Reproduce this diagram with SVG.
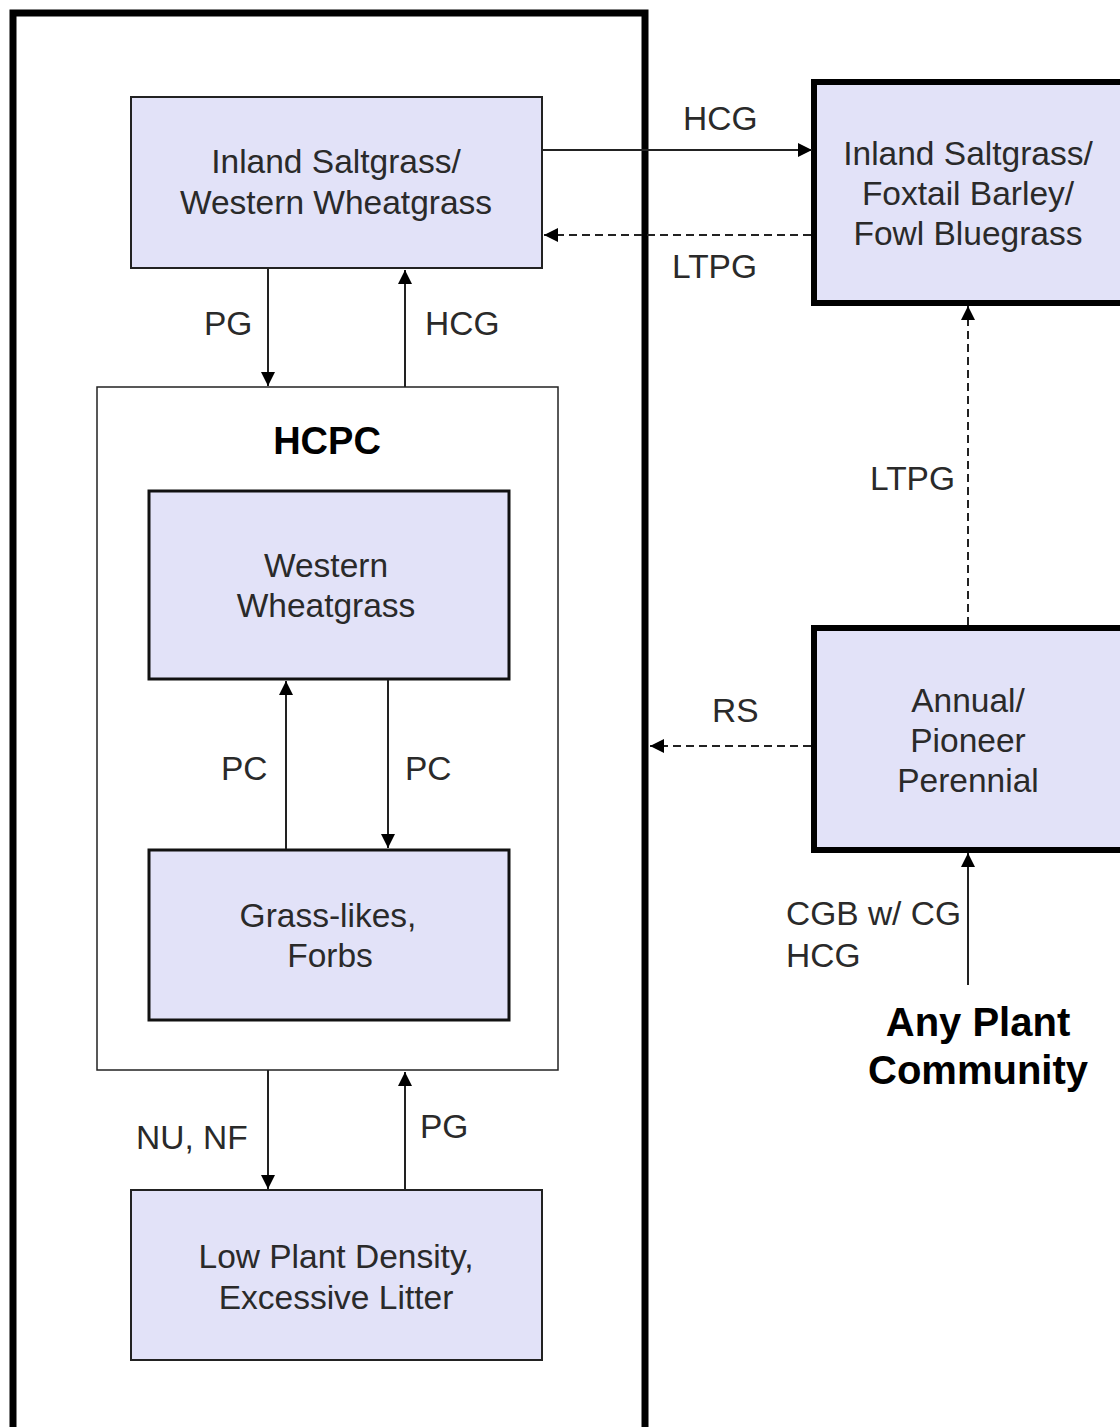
<svg xmlns="http://www.w3.org/2000/svg" width="1120" height="1427" viewBox="0 0 1120 1427">
<style>
.box{fill:#E2E2F8;stroke:#222;stroke-width:2}
.thick{fill:#E2E2F8;stroke:#000;stroke-width:6}
.mid{fill:#E2E2F8;stroke:#111;stroke-width:3}
.t{font-family:"Liberation Sans",Arial,sans-serif;font-size:33.5px;fill:#2a2a2a;text-anchor:middle}
.lbl{font-family:"Liberation Sans",Arial,sans-serif;font-size:33.5px;fill:#2a2a2a}
.b{font-family:"Liberation Sans",Arial,sans-serif;font-weight:bold;fill:#000;text-anchor:middle}
.c{stroke:#222;stroke-width:2;fill:none}
.d{stroke:#222;stroke-width:2;fill:none;stroke-dasharray:8,5}
</style>
<defs>
<marker id="ah" viewBox="0 0 10 10" refX="10" refY="5" markerWidth="15" markerHeight="14" markerUnits="userSpaceOnUse" orient="auto">
<path d="M0,0 L10,5 L0,10 z" fill="#000"/>
</marker>
</defs>
<rect width="1120" height="1427" fill="#fff"/>
<g id="frame"><rect x="13" y="13" width="632" height="1440" fill="none" stroke="#000" stroke-width="7"/></g>
<g id="n1"><rect class="box" x="131" y="97" width="411" height="171"/>
<text class="t" x="336" y="173">Inland Saltgrass/</text><text class="t" x="336" y="214">Western Wheatgrass</text></g>
<g id="n2"><rect class="thick" x="814" y="82" width="312" height="221"/>
<text class="t" x="968" y="165">Inland Saltgrass/</text><text class="t" x="968" y="205">Foxtail Barley/</text><text class="t" x="968" y="245">Fowl Bluegrass</text></g>
<g id="hcpc"><rect x="97" y="387" width="461" height="683" fill="#fff" stroke="#222" stroke-width="1.5"/>
<text class="b" x="327" y="454" font-size="38">HCPC</text></g>
<g id="n3"><rect class="mid" x="149" y="491" width="360" height="188"/>
<text class="t" x="326" y="577">Western</text><text class="t" x="326" y="617">Wheatgrass</text></g>
<g id="n4"><rect class="mid" x="149" y="850" width="360" height="170"/>
<text class="t" x="328" y="927">Grass-likes,</text><text class="t" x="330" y="967">Forbs</text></g>
<g id="n5"><rect class="box" x="131" y="1190" width="411" height="170"/>
<text class="t" x="336" y="1268">Low Plant Density,</text><text class="t" x="336" y="1309">Excessive Litter</text></g>
<g id="n6"><rect class="thick" x="814" y="628" width="312" height="222"/>
<text class="t" x="968" y="712">Annual/</text><text class="t" x="968" y="752">Pioneer</text><text class="t" x="968" y="792">Perennial</text></g>
<g id="n7"><text class="b" x="978" y="1036" font-size="40">Any Plant</text><text class="b" x="978" y="1084" font-size="40">Community</text></g>
<g id="connectors">
<line class="c" x1="542" y1="150" x2="812" y2="150" marker-end="url(#ah)"/>
<line class="d" x1="811" y1="235" x2="544" y2="235" marker-end="url(#ah)"/>
<line class="c" x1="268" y1="268" x2="268" y2="386" marker-end="url(#ah)"/>
<line class="c" x1="405" y1="387" x2="405" y2="270" marker-end="url(#ah)"/>
<line class="c" x1="286" y1="849" x2="286" y2="681" marker-end="url(#ah)"/>
<line class="c" x1="388" y1="680" x2="388" y2="848" marker-end="url(#ah)"/>
<line class="c" x1="268" y1="1070" x2="268" y2="1189" marker-end="url(#ah)"/>
<line class="c" x1="405" y1="1190" x2="405" y2="1072" marker-end="url(#ah)"/>
<line class="d" x1="968" y1="625" x2="968" y2="306" marker-end="url(#ah)"/>
<line class="d" x1="811" y1="746" x2="650" y2="746" marker-end="url(#ah)"/>
<line class="c" x1="968" y1="985" x2="968" y2="853" marker-end="url(#ah)"/>
<text class="lbl" x="683" y="130">HCG</text>
<text class="lbl" x="672" y="278">LTPG</text>
<text class="lbl" x="204" y="335">PG</text>
<text class="lbl" x="425" y="335">HCG</text>
<text class="lbl" x="221" y="780">PC</text>
<text class="lbl" x="405" y="780">PC</text>
<text class="lbl" x="136" y="1149">NU, NF</text>
<text class="lbl" x="420" y="1138">PG</text>
<text class="lbl" x="870" y="490">LTPG</text>
<text class="lbl" x="712" y="722">RS</text>
<text class="lbl" x="786" y="925">CGB w/ CG</text>
<text class="lbl" x="786" y="967">HCG</text>
</g>
</svg>
